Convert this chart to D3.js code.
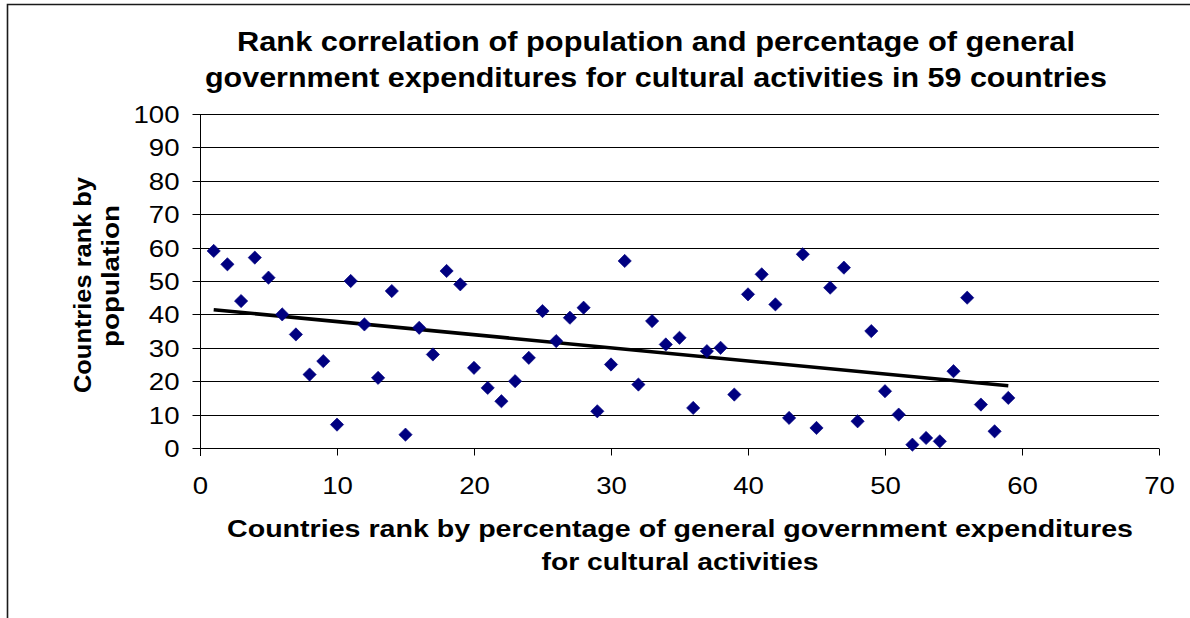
<!DOCTYPE html>
<html>
<head>
<meta charset="utf-8">
<script src="https://cdn.jsdelivr.net/npm/d3@7"></script>
<style>
  html, body { margin: 0; padding: 0; background: #fff; }
  svg { display: block; font-family: "Liberation Sans", Arial, Helvetica, sans-serif; }
</style>
</head>
<body>
<svg id="chart" width="1190" height="618"></svg>
<script>
// Country rank by share of general government expenditure on culture (x)
const expenditureRank = [
  1, 2, 3, 4, 5, 6, 7, 8, 9, 10, 11, 12, 13, 14, 15, 16, 17, 18, 19, 20,
  21, 22, 23, 24, 25, 26, 27, 28, 29, 30, 31, 32, 33, 34, 35, 36, 37, 38, 39, 40,
  41, 42, 43, 44, 45, 46, 47, 48, 49, 50, 51, 52, 53, 54, 55, 56, 57, 58, 59
];
// Same country's rank by population (y)
const populationRank = [
  59, 55, 44, 57, 51, 40, 34, 22, 26, 7, 50, 37, 21, 47, 4, 36, 28, 53, 49, 24,
  18, 14, 20, 27, 41, 32, 39, 42, 11, 25, 56, 19, 38, 31, 33, 12, 29, 30, 16, 46,
  52, 43, 9, 58, 6, 48, 54, 8, 35, 17, 10, 1, 3, 2, 23, 45, 13, 5, 15
];
const xTickValues = [0, 10, 20, 30, 40, 50, 60, 70];
const yTickValues = [0, 10, 20, 30, 40, 50, 60, 70, 80, 90, 100];

const titleLines = [
  "Rank correlation of population and percentage of general",
  "government expenditures for cultural activities in 59 countries"
];
const xTitleLines = [
  "Countries rank by percentage of general government expenditures",
  "for cultural activities"
];
const yTitleLines = ["Countries rank by", "population"];

const points = expenditureRank.map((r, i) => ({ x: r, y: populationRank[i] }));

const svg = d3.select("#chart");

const x = d3.scaleLinear().domain([0, 70]).range([200, 1159]);
const y = d3.scaleLinear().domain([0, 100]).range([448, 114]);
const crisp = v => Math.round(v) + 0.5;

// outer frame (top and left edges)
svg.append("path")
  .attr("d", "M7.5,618 V4.5 H1190")
  .attr("fill", "none")
  .attr("stroke", "#1a1a1a")
  .attr("stroke-width", 1.6);

// horizontal gridlines
svg.append("g").selectAll("line")
  .data(yTickValues.filter(v => v > 0))
  .join("line")
  .attr("x1", x(0)).attr("x2", x(70))
  .attr("y1", d => crisp(y(d))).attr("y2", d => crisp(y(d)))
  .attr("stroke", "#000").attr("stroke-width", 1);

// y axis
const yAxis = svg.append("g")
  .attr("transform", `translate(${crisp(x(0))},0)`)
  .call(d3.axisLeft(y).tickValues(yTickValues).tickSize(8).tickSizeOuter(0));
yAxis.select(".domain").remove();
yAxis.selectAll(".tick line").attr("stroke", "#000").attr("transform", "translate(0,0)");
yAxis.selectAll(".tick").attr("transform", d => `translate(0,${crisp(y(d))})`);
yAxis.selectAll(".tick text")
  .attr("x", -21 / 1.2)
  .attr("dy", "0.36em")
  .attr("transform", "scale(1.2,1)")
  .attr("font-size", 23)
  .attr("font-family", "Liberation Sans, Arial, sans-serif")
  .attr("fill", "#000");
svg.append("line")
  .attr("x1", crisp(x(0))).attr("x2", crisp(x(0)))
  .attr("y1", crisp(y(100))).attr("y2", 456)
  .attr("stroke", "#000").attr("stroke-width", 1);

// x axis
const xAxis = svg.append("g")
  .attr("transform", `translate(0,${crisp(y(0))})`)
  .call(d3.axisBottom(x).tickValues(xTickValues).tickSize(7).tickSizeOuter(0));
xAxis.select(".domain").remove();
xAxis.selectAll(".tick").attr("transform", d => `translate(${crisp(x(d))},0)`);
xAxis.selectAll(".tick line").attr("stroke", "#000");
xAxis.selectAll(".tick text")
  .attr("y", 46)
  .attr("dy", "0")
  .attr("transform", "scale(1.2,1)")
  .attr("font-size", 23)
  .attr("font-family", "Liberation Sans, Arial, sans-serif")
  .attr("fill", "#000");
svg.append("line")
  .attr("x1", x(0)).attr("x2", x(70))
  .attr("y1", crisp(y(0))).attr("y2", crisp(y(0)))
  .attr("stroke", "#000").attr("stroke-width", 1);

// least-squares trend line over the plotted points
const mx = d3.mean(points, d => d.x);
const my = d3.mean(points, d => d.y);
const slope = d3.sum(points, d => (d.x - mx) * (d.y - my)) / d3.sum(points, d => (d.x - mx) ** 2);
const intercept = my - slope * mx;
const [xMin, xMax] = d3.extent(points, d => d.x);
svg.append("line")
  .attr("x1", x(xMin)).attr("y1", y(intercept + slope * xMin))
  .attr("x2", x(xMax)).attr("y2", y(intercept + slope * xMax))
  .attr("stroke", "#000").attr("stroke-width", 3.5);

// diamond markers
const diamond = d3.symbol().type(d3.symbolSquare).size(88)();
svg.append("g").selectAll("path")
  .data(points)
  .join("path")
  .attr("d", diamond)
  .attr("transform", d => `translate(${x(d.x)},${y(d.y)}) rotate(45)`)
  .attr("fill", "#000080")
  .attr("stroke", "#000080")
  .attr("stroke-width", 0.6);

// chart title
const titleLayout = [
  { cx: 656, base: 51, len: 838 },
  { cx: 656, base: 87, len: 902 }
];
svg.append("g").selectAll("text")
  .data(titleLines)
  .join("text")
  .attr("x", (d, i) => titleLayout[i].cx)
  .attr("y", (d, i) => titleLayout[i].base)
  .attr("text-anchor", "middle")
  .attr("font-weight", "bold")
  .attr("font-size", 27)
  .attr("textLength", (d, i) => titleLayout[i].len)
  .attr("lengthAdjust", "spacingAndGlyphs")
  .attr("fill", "#000")
  .text(d => d);

// x axis title
const xTitleLayout = [
  { cx: 680, base: 537, len: 906 },
  { cx: 680, base: 570, len: 277 }
];
svg.append("g").selectAll("text")
  .data(xTitleLines)
  .join("text")
  .attr("x", (d, i) => xTitleLayout[i].cx)
  .attr("y", (d, i) => xTitleLayout[i].base)
  .attr("text-anchor", "middle")
  .attr("font-weight", "bold")
  .attr("font-size", 23)
  .attr("textLength", (d, i) => xTitleLayout[i].len)
  .attr("lengthAdjust", "spacingAndGlyphs")
  .attr("fill", "#000")
  .text(d => d);

// y axis title (rotated)
const yTitleLayout = [
  { base: 91, cy: 285, len: 216 },
  { base: 119, cy: 276, len: 142 }
];
svg.append("g").selectAll("text")
  .data(yTitleLines)
  .join("text")
  .attr("transform", (d, i) => `translate(${yTitleLayout[i].base},${yTitleLayout[i].cy}) rotate(-90)`)
  .attr("text-anchor", "middle")
  .attr("font-weight", "bold")
  .attr("font-size", 23)
  .attr("textLength", (d, i) => yTitleLayout[i].len)
  .attr("lengthAdjust", "spacingAndGlyphs")
  .attr("fill", "#000")
  .text(d => d);
</script>
</body>
</html>
